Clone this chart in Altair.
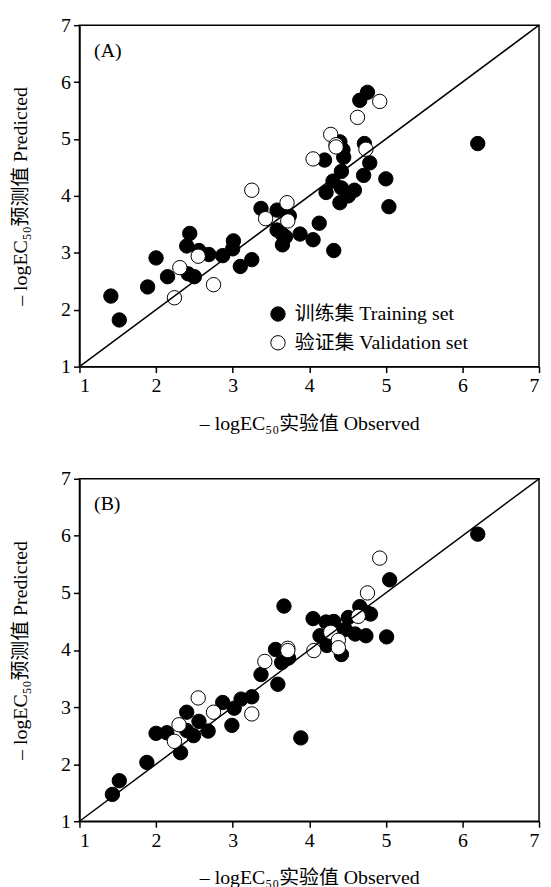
import altair as alt
import pandas as pd

# ---------------- data ----------------
axis_ticks = [1, 2, 3, 4, 5, 6, 7]
diag_vals = [1, 7]
set_names = ["训练集 Training set", "验证集 Validation set"]
panel_labels = ["(A)", "(B)"]

# Panel A
a_train_obs = [1.41, 1.52, 1.89, 2.00, 2.15, 2.40, 2.44, 2.42, 2.50, 2.56, 2.69, 2.87, 3.00, 3.01,
               3.10, 3.25, 3.37, 3.58, 3.58, 3.65, 3.65, 3.69, 3.74, 3.88, 4.05, 4.13, 4.20, 4.22,
               4.31, 4.32, 4.40, 4.42, 4.42, 4.40, 4.44, 4.45, 4.51, 4.59, 4.66, 4.76, 4.72, 4.71,
               4.79, 5.00, 5.04, 6.20]
a_train_pred = [2.24, 1.82, 2.40, 2.91, 2.58, 3.12, 3.34, 2.63, 2.58, 3.04, 2.97, 2.95, 3.07, 3.21,
                2.76, 2.88, 3.78, 3.75, 3.40, 3.32, 3.14, 3.28, 3.65, 3.33, 3.23, 3.52, 4.63, 4.06,
                4.26, 3.04, 4.95, 4.43, 4.14, 3.88, 4.81, 4.68, 4.00, 4.10, 5.68, 5.82, 4.92, 4.36,
                4.58, 4.30, 3.81, 4.92]
a_val_obs = [2.24, 2.31, 2.55, 2.75, 3.25, 3.43, 3.71, 3.72, 4.05, 4.28, 4.35, 4.35, 4.63, 4.74, 4.92]
a_val_pred = [2.21, 2.74, 2.94, 2.44, 4.10, 3.60, 3.88, 3.56, 4.65, 5.08, 4.90, 4.86, 5.38, 4.82, 5.66]

# Panel B
b_train_obs = [1.43, 1.52, 1.88, 2.00, 2.14, 2.32, 2.40, 2.40, 2.49, 2.56, 2.68, 2.87, 2.99, 3.02,
               3.11, 3.25, 3.37, 3.56, 3.59, 3.67, 3.64, 3.73, 3.89, 4.05, 4.14, 4.22, 4.23, 4.32,
               4.39, 4.42, 4.47, 4.51, 4.60, 4.66, 4.74, 4.80, 5.01, 5.05, 6.20, 4.74]
b_train_pred = [1.47, 1.71, 2.03, 2.54, 2.55, 2.20, 2.91, 2.59, 2.50, 2.75, 2.58, 3.08, 2.68, 2.98,
                3.14, 3.18, 3.57, 4.01, 3.40, 4.77, 3.78, 3.86, 2.46, 4.55, 4.25, 4.49, 4.08, 4.50,
                4.31, 3.92, 4.36, 4.57, 4.28, 4.76, 4.25, 4.63, 4.23, 5.23, 6.03, 4.66]
b_val_obs = [2.24, 2.30, 2.55, 2.75, 3.25, 3.42, 3.72, 3.72, 4.06, 4.28, 4.38, 4.38, 4.64, 4.76, 4.92]
b_val_pred = [2.40, 2.69, 3.16, 2.91, 2.88, 3.80, 4.03, 3.99, 3.99, 4.31, 4.17, 4.04, 4.59, 5.00, 5.61]

FONT = "Liberation Serif, Noto Sans CJK SC"
X_TITLE = "– logEC₅₀实验值 Observed"
Y_TITLE = "– logEC₅₀预测值  Predicted"
FS = 20


def panel(label, tx, ty, vx, vy, w, h, ytp, xtp, lx, ly):
    df = pd.DataFrame({
        "obs": tx + vx,
        "pred": ty + vy,
        "set": [set_names[0]] * len(tx) + [set_names[1]] * len(vx),
    })
    xs = alt.Scale(domain=[1, 7], nice=False, zero=False)
    ys = alt.Scale(domain=[1, 7], nice=False, zero=False)
    xax = alt.Axis(values=axis_ticks, format="d", title=X_TITLE, titlePadding=xtp)
    yax = alt.Axis(values=axis_ticks, format="d", title=Y_TITLE, titlePadding=ytp)

    pts = alt.Chart(df).mark_point(filled=True, size=210, stroke="black",
                                   strokeWidth=1, opacity=1, shape="circle").encode(
        x=alt.X("obs:Q", scale=xs, axis=xax),
        y=alt.Y("pred:Q", scale=ys, axis=yax),
        fill=alt.Fill("set:N", scale=alt.Scale(domain=set_names, range=["black", "white"]),
                      legend=alt.Legend(title=None, orient="none", legendX=lx, legendY=ly,
                                        symbolType="circle", symbolSize=210,
                                        symbolStrokeColor="black", symbolStrokeWidth=1,
                                        labelFont=FONT, labelFontSize=FS, labelColor="black",
                                        labelLimit=300, rowPadding=9, labelOffset=7)),
        order=alt.Order("set:N"),
    )
    line = alt.Chart(pd.DataFrame({"v": diag_vals})).mark_line(
        color="black", strokeWidth=1.5).encode(
        x=alt.X("v:Q", scale=xs), y=alt.Y("v:Q", scale=ys))
    txt = alt.Chart(pd.DataFrame({"x": [1.19], "y": [6.55], "t": [label]})).mark_text(
        align="left", baseline="middle", font=FONT, fontSize=FS, color="black").encode(
        x=alt.X("x:Q", scale=xs), y=alt.Y("y:Q", scale=ys), text="t:N")
    return alt.layer(pts, line, txt).properties(width=w, height=h)


chart = alt.vconcat(
    panel(panel_labels[0], a_train_obs, a_train_pred, a_val_obs, a_val_pred,
          463, 344, 30, 18, 190, 281),
    panel(panel_labels[1], b_train_obs, b_train_pred, b_val_obs, b_val_pred,
          463, 345, 30, 18, 194, 290),
    spacing=34,
).configure_axis(
    grid=False, domainColor="black", domainWidth=1.5, tickColor="black", tickWidth=1.5,
    tickSize=6, labelFont=FONT, labelFontSize=FS, labelColor="black", labelPadding=3,
    titleFont=FONT, titleFontSize=FS, titleFontWeight="normal", titleColor="black",
).configure_view(stroke="black", strokeWidth=1.5).properties(
    padding={"left": 2, "top": 3, "right": 0, "bottom": 0})

chart.save("out.html", embed_options={"renderer": "svg", "actions": False})
